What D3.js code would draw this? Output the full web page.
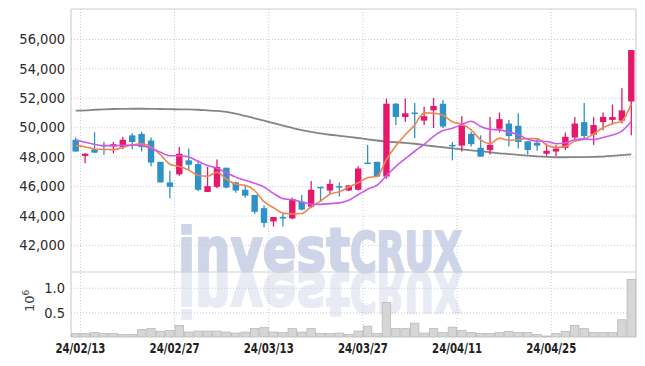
<!DOCTYPE html>
<html lang="ko">
<head>
<meta charset="UTF-8">
<title>investCRUX</title>
<script src="https://cdn.jsdelivr.net/npm/d3@7"></script>
<style>
  body { margin: 0; background: #fff; }
  svg text { font-family: "Liberation Sans Narrow", "DejaVu Sans Condensed", sans-serif; }
</style>
</head>
<body>
<svg id="chart" width="645" height="366" xmlns:xlink="http://www.w3.org/1999/xlink"></svg>
<script>
// 일봉 데이터 (24/02/13 ~ 24/05/10)
var dates = ['24/02/13','24/02/14','24/02/15','24/02/16','24/02/19','24/02/20','24/02/21','24/02/22','24/02/23','24/02/26',
  '24/02/27','24/02/28','24/02/29','24/03/04','24/03/05','24/03/06','24/03/07','24/03/08','24/03/11','24/03/12',
  '24/03/13','24/03/14','24/03/15','24/03/18','24/03/19','24/03/20','24/03/21','24/03/22','24/03/25','24/03/26',
  '24/03/27','24/03/28','24/03/29','24/04/01','24/04/02','24/04/03','24/04/04','24/04/05','24/04/08','24/04/09',
  '24/04/11','24/04/12','24/04/15','24/04/16','24/04/17','24/04/18','24/04/19','24/04/22','24/04/23','24/04/24',
  '24/04/25','24/04/26','24/04/29','24/04/30','24/05/02','24/05/03','24/05/07','24/05/08','24/05/09','24/05/10']
var dateTicks = ['24/02/13','24/02/27','24/03/13','24/03/27','24/04/11','24/04/25']
var priceTicks = [42000, 44000, 46000, 48000, 50000, 52000, 54000, 56000]
var volTicks = [0.5, 1.0]

var open = [49150,48050,48500,48800,48700,48650,49450,49550,49100,47650,
  46250,46800,47750,47500,45600,45950,47250,46250,45750,45400,
  44500,43600,43900,43800,44950,44600,45950,45700,46000,45700,
  45750,47600,47650,46650,51600,50700,51000,50450,51150,51600,
  48800,48750,49550,48600,48450,49900,50250,50100,49050,48950,
  48200,48350,48600,49300,50350,49500,50350,50500,50450,51750]
var high = [49300,48250,49660,49020,49000,49350,49600,49700,49300,47650,
  47050,48650,48550,47650,47300,47800,47250,46300,46050,45400,
  44700,43900,44150,45200,45400,46350,45950,46450,46250,46050,
  47350,48800,47650,51950,51650,51950,51650,51400,52000,51850,
  49000,50750,49700,49450,50700,51000,50500,50950,49050,49200,
  48900,48800,49650,50700,51650,50700,51000,51550,52650,55250]
var low = [48350,47550,48250,48130,48220,48500,48500,48350,47350,46250,
  45170,46700,47100,45650,45600,45850,45850,45550,45200,44100,
  43200,43250,43250,43750,44350,44500,44950,45500,45300,45650,
  45700,47550,46600,46500,50150,50350,49250,50150,49950,49950,
  47750,48350,48700,48000,48150,49650,48700,48550,48150,48400,
  48050,48050,48450,49150,49250,48800,49800,50200,50250,49450]
var close = [48350,48200,48270,48700,48850,49150,49000,48650,47600,46250,
  45950,48200,47450,45750,46000,47300,45900,45700,45350,44250,
  43500,43900,43800,45100,44400,45750,45850,46150,45900,46050,
  47200,47550,46650,51600,50700,50950,50900,50750,51450,50050,
  48700,50100,48850,48000,48800,50550,49400,49000,48450,48750,
  48400,48550,49350,50250,49400,50150,50700,50700,51150,55250]
// 거래량 (백만 주)
var volume = [0.07,0.07,0.09,0.07,0.07,0.05,0.05,0.15,0.17,0.115,
  0.135,0.235,0.10,0.12,0.12,0.12,0.10,0.08,0.10,0.17,
  0.19,0.10,0.09,0.17,0.10,0.17,0.07,0.07,0.08,0.05,
  0.12,0.22,0.07,0.70,0.17,0.17,0.28,0.08,0.17,0.09,
  0.20,0.135,0.09,0.07,0.07,0.09,0.115,0.09,0.09,0.05,
  0.02,0.07,0.115,0.235,0.17,0.09,0.09,0.09,0.35,1.17]
// 이동평균선
var ma5 = [48750,48680,48520,48500,48470,48630,48790,48870,48650,48130,
  47490,47330,47090,46720,46670,46940,46480,46130,46050,45700,
  44940,44540,44160,44110,44140,44590,44980,45450,45610,45940,
  46230,46570,46670,47810,48740,49490,50160,50980,50950,50820,
  50370,50210,49830,49140,48890,49260,49120,49150,49240,49230,
  48800,48630,48700,49060,49190,49540,49970,50240,50420,51590]
var ma10 = [49130,48980,48840,48750,48750,48770,48790,48750,48570,48300,
  48060,48060,47980,47690,47400,47220,46910,46610,46390,46190,
  45940,45510,45150,45080,44920,44770,44760,44810,44860,45040,
  45410,45780,46060,46710,47340,47860,48370,48830,49380,49780,
  49930,50190,50410,50050,49860,49820,49670,49490,49190,49060,
  49030,48880,48930,49150,49210,49170,49300,49470,49740,50390]
var maLong = [51130,51150,51190,51220,51240,51250,51260,51260,51250,51240,
  51230,51220,51210,51190,51150,51110,51040,50920,50770,50610,
  50450,50280,50110,49960,49800,49690,49580,49490,49420,49350,
  49270,49180,49100,49030,48980,48940,48880,48790,48710,48640,
  48570,48500,48430,48370,48300,48230,48180,48120,48070,48020,
  47980,47960,47960,47970,47970,47990,48010,48050,48100,48160]

var svg = d3.select('#chart')
var L = 71, R = 636, T = 9, MID = 272, B = 337

var x = d3.scaleBand().domain(dates).range([L, R])
var cx = function (i) { return x(dates[i]) + x.bandwidth() / 2 }
var y = d3.scaleLinear().domain([40160, 58040]).range([MID, T])
var yv = d3.scaleLinear().domain([0, 1.32]).range([B, MID])

// 워터마크 (반사는 use로 뒤집어서)
var wm = svg.append('text').attr('id', 'wm').attr('x', 178).attr('y', 271)
  .attr('font-weight', 'bold').attr('fill', '#cfd5e8')
  .attr('stroke', '#cfd5e8').attr('stroke-width', 2.2).attr('stroke-linejoin', 'round')
  .style('font-family', '"DejaVu Sans Condensed", "DejaVu Sans"')
wm.append('tspan').attr('font-size', 60).attr('textLength', 172)
  .attr('lengthAdjust', 'spacingAndGlyphs').text('invest')
wm.append('tspan').attr('font-size', 55).attr('textLength', 112)
  .attr('lengthAdjust', 'spacingAndGlyphs').text('CRUX')
svg.append('use').attr('href', '#wm').attr('xlink:href', '#wm')
  .attr('transform', 'translate(0,544) scale(1,-1)').attr('opacity', 0.45)

// 격자 + 축
function styleGrid (g) {
  g.select('.domain').remove()
  g.selectAll('.tick line').attr('stroke', '#c6c9da').attr('stroke-dasharray', '1,2')
  g.selectAll('.tick text').attr('fill', '#2b2b2b')
}
svg.append('g').attr('transform', 'translate(' + L + ',0)')
  .call(d3.axisLeft(y).tickValues(priceTicks).tickFormat(d3.format(',')).tickSize(-(R - L)).tickPadding(6))
  .call(styleGrid)
  .selectAll('text').attr('font-size', 14.5)
svg.append('g').attr('transform', 'translate(' + L + ',0)')
  .call(d3.axisLeft(yv).tickValues(volTicks).tickFormat(d3.format('.1f')).tickSize(-(R - L)).tickPadding(6))
  .call(styleGrid)
  .selectAll('text').attr('font-size', 14.5)
svg.append('g').attr('transform', 'translate(' + (x.bandwidth() / 2) + ',' + B + ')')
  .call(d3.axisBottom(x).tickValues(dateTicks).tickSize(-(B - T)).tickPadding(6))
  .call(styleGrid)
  .selectAll('text').attr('font-size', 14).attr('font-weight', 'bold').attr('fill', '#222')
  .attr('textLength', 50).attr('lengthAdjust', 'spacingAndGlyphs')

// 테두리
var frame = svg.append('g').attr('stroke', '#cfcfcf').attr('stroke-width', 1.2)
frame.append('line').attr('x1', L).attr('x2', R).attr('y1', T).attr('y2', T)
frame.append('line').attr('x1', L).attr('x2', L).attr('y1', T).attr('y2', B)
frame.append('line').attr('x1', R).attr('x2', R).attr('y1', T).attr('y2', B)
frame.append('line').attr('x1', L).attr('x2', R).attr('y1', MID).attr('y2', MID)

// 10^6 단위
var unit = svg.append('text').attr('transform', 'translate(34,312) rotate(-90)')
  .attr('font-size', 13).attr('fill', '#444').style('font-family', 'DejaVu Sans')
unit.append('tspan').text('10')
unit.append('tspan').attr('dy', -5).attr('font-size', 9).text('6')

// 거래량
svg.append('g').selectAll('rect').data(volume).enter().append('rect')
  .attr('x', function (d, i) { return x(dates[i]) + 0.5 })
  .attr('width', x.bandwidth() - 1)
  .attr('y', function (d) { return yv(d) })
  .attr('height', function (d) { return B - yv(d) })
  .attr('fill', '#d6d6d6').attr('stroke', '#b9b9b9').attr('stroke-width', 0.8)

function maLine (data, color, w) {
  var line = d3.line().x(function (d, i) { return cx(i) }).y(function (d) { return y(d) })
    .curve(d3.curveMonotoneX)
  svg.append('path').attr('d', line(data)).attr('fill', 'none')
    .attr('stroke', color).attr('stroke-width', w)
}

maLine(maLong, '#858585', 1.8)

// 캔들
var up = '#e5196c', down = '#2f92c6'
var candles = svg.append('g').selectAll('g').data(dates).enter().append('g')
  .attr('fill', function (d, i) { return close[i] >= open[i] ? up : down })
  .attr('stroke', function (d, i) { return close[i] >= open[i] ? up : down })
candles.append('line')
  .attr('x1', function (d, i) { return cx(i) }).attr('x2', function (d, i) { return cx(i) })
  .attr('y1', function (d, i) { return y(high[i]) }).attr('y2', function (d, i) { return y(low[i]) })
  .attr('stroke-width', 1.3)
candles.append('rect')
  .attr('x', function (d, i) { return cx(i) - 3.2 }).attr('width', 6.4)
  .attr('y', function (d, i) { return y(Math.max(open[i], close[i])) })
  .attr('height', function (d, i) { return Math.max(1.5, Math.abs(y(open[i]) - y(close[i]))) })
  .attr('stroke', 'none')

maLine(ma5, '#ef8650', 1.6)
maLine(ma10, '#cc58ec', 1.6)
</script>
</body>
</html>
